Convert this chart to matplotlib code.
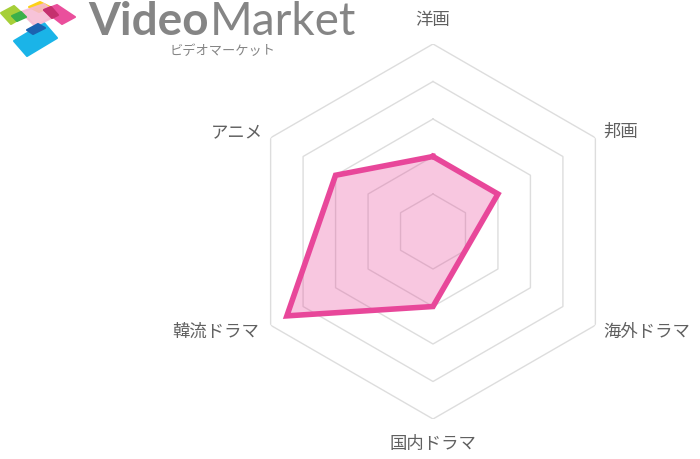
import numpy as np
import matplotlib
matplotlib.use("Agg")
import matplotlib.pyplot as plt
from matplotlib.patches import Polygon

plt.rcParams['font.family'] = ['Noto Sans CJK JP', 'DejaVu Sans']

categories = ['洋画', '邦画', '海外ドラマ', '国内ドラマ', '韓流ドラマ', 'アニメ']
values = [2, 2, 1, 2, 4.5, 3]
rings = [1, 2, 3, 4, 5]
rmax = 5

W, H = 700, 460
fig = plt.figure(figsize=(W / 100, H / 100), dpi=100)
fig.patch.set_facecolor('white')

cx, cy, R = 433, 232.5, 187.5
ax = fig.add_axes([(cx - R) / W, (H - cy - R) / H, 2 * R / W, 2 * R / H], projection='polar')
ax.set_theta_offset(np.pi / 2)
ax.set_theta_direction(-1)
ax.set_ylim(0, rmax)
ax.grid(False)
ax.spines['polar'].set_visible(False)
ax.set_xticks([])
ax.set_yticks([])
ax.patch.set_alpha(0)

n = len(categories)
theta = np.arange(n) * 2 * np.pi / n
tc = np.append(theta, theta[0])

for r in rings:
    ax.plot(tc, [r] * (n + 1), color='#dddddd', lw=1.0, zorder=1)

vc = values + values[:1]
ax.fill(tc, vc, color='#e8479a', alpha=0.3, zorder=2, lw=0)
ax.plot(tc, vc, color='#e8479a', lw=4, zorder=3, solid_joinstyle='miter')

offsets = [(0, 25, 'center'), (8, 7, 'left'), (8, -6, 'left'),
           (0, -24, 'center'), (-11, -6, 'right'), (-8, 6, 'right')]
for t, lab, (dx, dy, ha) in zip(theta, categories, offsets):
    ax.annotate(lab, xy=(t, rmax), xytext=(dx, dy), textcoords='offset pixels',
                ha=ha, va='center', fontsize=12.5, color='#606060',
                annotation_clip=False)

# logo
lax = fig.add_axes([0, (H - 60) / H, 90 / W, 60 / H])
lax.set_xlim(0, 90)
lax.set_ylim(60, 0)
lax.axis('off')
shapes = [
    ([(1, 14), (14, 7), (25, 17), (11, 25)], '#a6cf38', 1),
    ([(29, 8), (40, 3), (50, 8), (39, 13)], '#fcd116', 1),
    ([(14, 42), (44, 24), (57, 39), (27, 57)], '#1ab4e8', 1),
    ([(21, 13), (44, 5), (58, 16), (35, 27)], '#f6b9d2', 0.85),
    ([(44, 11), (57, 6), (75, 18), (62, 25)], '#ea4f9c', 1),
    ([(44, 11), (51, 8), (58, 16), (52, 19)], '#c5306e', 1),
    ([(12, 17), (21, 13), (26, 18), (17, 22)], '#3bb04a', 1),
    ([(27, 31), (38, 25), (45, 29), (33, 35)], '#1c62b0', 1),
]
for pts, col, a in shapes:
    lax.add_patch(Polygon(pts, closed=True, facecolor=col, edgecolor=col,
                          lw=1.5, joinstyle='round', alpha=a))

tv = fig.text(88 / W, (H - 35) / H, 'Video', fontsize=33, fontweight='bold',
              color='#858585', family='Lato', ha='left', va='baseline')
fig.canvas.draw()
bb = tv.get_window_extent()
fig.text(bb.x1 / W + 1 / W, (H - 35) / H, 'Market', fontsize=33, color='#858585',
         family='Lato', ha='left', va='baseline')
fig.text(223 / W, (H - 51) / H, 'ビデオマーケット', fontsize=9.5, color='#858585',
         ha='center', va='center')

fig.savefig('out.png', dpi=100)
